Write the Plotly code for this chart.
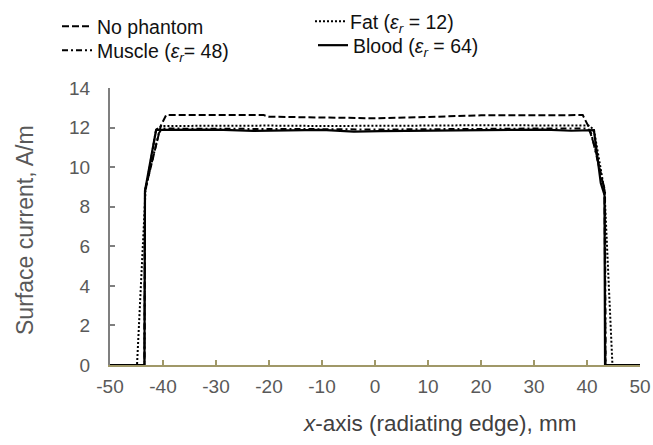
import plotly.graph_objects as go

# ---- data ----
x_nophantom = [-50, -43.5, -43.4, -42.0, -40.4, -39.4, -21.0, -20.0, -9.0, 0.0, 8.0, 20.0, 39.2, 40.2, 41.5, 43.3, 43.5, 50]
y_nophantom = [0, 0, 8.8, 10.4, 12.1, 12.63, 12.63, 12.55, 12.52, 12.47, 12.52, 12.62, 12.63, 12.1, 11.0, 8.8, 0, 0]

x_fat = [-50, -44.9, -43.3, -41.3, -40.3, -30, -20, -10, 0, 10, 20, 30, 40.3, 41.3, 43.3, 44.8, 50]
y_fat = [0, 0, 8.8, 11.9, 12.08, 12.1, 12.1, 12.08, 12.08, 12.1, 12.12, 12.1, 12.1, 11.9, 8.8, 0, 0]

x_muscle = [-50, -43.5, -43.4, -42.3, -40.8, -40.2, -30, -20, -10, 0, 10, 20, 30, 40.2, 40.8, 42.3, 43.4, 43.5, 50]
y_muscle = [0, 0, 8.8, 10.0, 11.7, 11.95, 11.95, 11.95, 11.92, 11.9, 11.92, 11.95, 11.95, 11.95, 11.7, 10.0, 8.8, 0, 0]

x_blood = [-50, -43.5, -43.4, -41.3, -30, -25, -23, -10, -4, 1, 10, 23, 32, 37, 41.3, 42.6, 43.3, 43.4, 50]
y_blood = [0, 0, 8.8, 11.88, 11.9, 11.86, 11.83, 11.88, 11.8, 11.82, 11.84, 11.86, 11.9, 11.84, 11.87, 9.2, 8.6, 0, 0]

x_ticks = [-50, -40, -30, -20, -10, 0, 10, 20, 30, 40, 50]
x_ticktext = ["-50", "-40", "-30", "-20", "-10", "0", "10", "20", "30", "40", "50"]
y_ticks = [0, 2, 4, 6, 8, 10, 12, 14]

EPS = "<i>ε</i><sub><i>r</i></sub>"

fig = go.Figure()
fig.add_trace(go.Scatter(x=x_nophantom, y=y_nophantom, mode="lines", name="No phantom", showlegend=True,
                         line=dict(color="black", width=2, dash="7px,3px"), legend="legend"))
fig.add_trace(go.Scatter(x=x_muscle, y=y_muscle, mode="lines", name=f"Muscle ({EPS}= 48)", showlegend=True,
                         line=dict(color="black", width=2, dash="6px,3px,2px,3px"), legend="legend2"))
fig.add_trace(go.Scatter(x=x_fat, y=y_fat, mode="lines", name=f"Fat ({EPS} = 12)", showlegend=True,
                         line=dict(color="black", width=2, dash="2px,2px"), legend="legend3"))
fig.add_trace(go.Scatter(x=x_blood, y=y_blood, mode="lines", name=f"Blood ({EPS} = 64)", showlegend=True,
                         line=dict(color="black", width=2.2), legend="legend4"))

W, H = 653, 445
font = "Liberation Sans, Arial, sans-serif"
L, R, T, B = 110, 13, 88, 80
PW, PH = W - L - R, H - T - B


def leg(px, top):
    return dict(xref="container", yref="container", x=px / W, y=1 - top / H,
                xanchor="left", yanchor="top", bgcolor="rgba(0,0,0,0)", visible=True,
                font=dict(size=19.5, color="#111111"), tracegroupgap=0, itemwidth=30)


fig.update_layout(
    width=W, height=H, showlegend=True,
    margin=dict(l=L, r=R, t=T, b=B, autoexpand=False),
    plot_bgcolor="white", paper_bgcolor="white",
    font=dict(family=font, size=19, color="#595959"),
    xaxis=dict(range=[-50, 50], tickvals=x_ticks, ticktext=x_ticktext, ticks="inside", ticklen=5, tickwidth=2,
               tickcolor="#a09868", showline=True, linecolor="#a09868", linewidth=2,
               showgrid=False, zeroline=False, automargin=False, ticklabelstandoff=3,
               tickfont=dict(size=19, color="#595959")),
    yaxis=dict(range=[0, 14], tickvals=y_ticks, ticks="inside", ticklen=5, tickwidth=2,
               tickcolor="#7f7f7f", showline=True, linecolor="#7f7f7f", linewidth=2,
               showgrid=False, zeroline=False, automargin=False, ticklabelstandoff=14,
               tickfont=dict(size=19, color="#595959")),
    legend=leg(57, 7),
    legend2=leg(57, 31),
    legend3=leg(310, 2),
    legend4=leg(313, 26),
    annotations=[
        dict(text="<i>x</i>-axis (radiating edge), mm", xref="paper", yref="paper",
             x=(440 - L) / PW, y=-(423 - (H - B)) / PH, xanchor="center", yanchor="middle",
             showarrow=False, font=dict(size=22.5, color="#404040")),
        dict(text="Surface current, A/m", xref="paper", yref="paper", textangle=-90,
             x=-(L - 25) / PW, y=(H - B - 230) / PH, xanchor="center", yanchor="middle",
             showarrow=False, font=dict(size=23, color="#595959")),
    ],
)

fig.write_html("out.html", config={"displayModeBar": False},
               post_script="document.body.style.margin='0px';")
